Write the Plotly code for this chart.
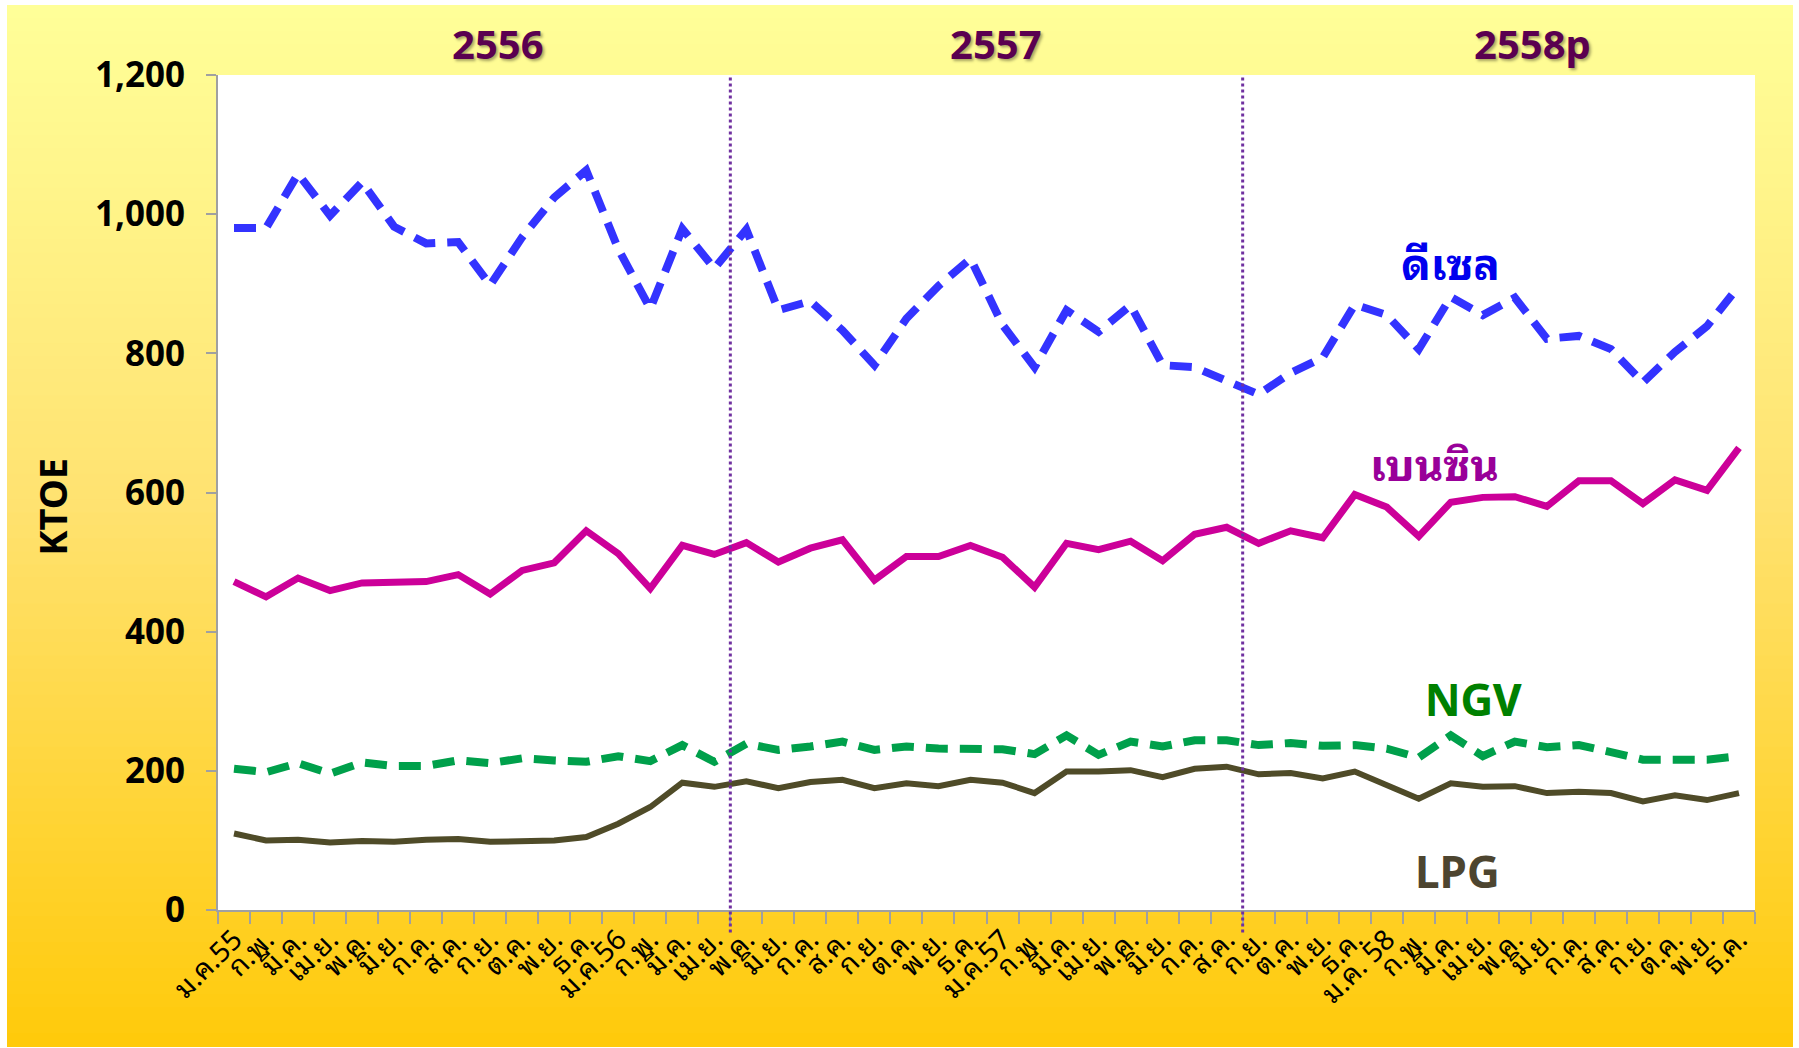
import plotly.graph_objects as go

months = ["ม.ค.", "ก.พ.", "มี.ค.", "เม.ย.", "พ.ค.", "มิ.ย.",
          "ก.ค.", "ส.ค.", "ก.ย.", "ต.ค.", "พ.ย.", "ธ.ค."]
x_labels = (["ม.ค.55"] + months[1:] + ["ม.ค.56"] + months[1:]
            + ["ม.ค.57"] + months[1:] + ["ม.ค. 58"] + months[1:])

diesel = [980, 980, 1058, 998, 1046, 982, 958, 960, 898, 967, 1024, 1063,
          950, 864, 979, 922, 978, 862, 875, 833, 783, 850, 897, 936,
          841, 780, 862, 831, 869, 783, 780, 760, 741, 772, 794, 870,
          855, 806, 881, 855, 880, 821, 825, 806, 758, 802, 839, 897]
benzin = [472, 450, 477, 459, 470, 472, 472, 482, 454, 488, 499, 545,
          512, 462, 524, 511, 528, 500, 520, 532, 474, 508, 508, 524,
          507, 464, 527, 518, 530, 502, 540, 550, 527, 545, 535, 597,
          579, 537, 586, 593, 594, 580, 617, 617, 584, 618, 603, 664]
ngv = [203, 198, 211, 196, 212, 207, 207, 215, 211, 218, 215, 213,
       221, 214, 237, 213, 239, 230, 235, 242, 230, 235, 232, 231,
       231, 224, 251, 223, 242, 235, 244, 244, 237, 240, 236, 237,
       232, 219, 251, 221, 242, 234, 237, 227, 216, 216, 216, 221]
lpg = [110, 100, 101, 97, 99, 98, 101, 102, 98, 100, 100, 105,
       124, 148, 183, 177, 185, 175, 184, 187, 175, 182, 178, 187,
       183, 168, 199, 199, 201, 191, 203, 206, 195, 197, 189, 199,
       180, 160, 182, 177, 178, 168, 170, 168, 156, 165, 158, 168]

year_labels = ["2556", "2557", "2558p"]
year_label_x = [8.25, 23.8, 40.55]
year_breaks = [15.5, 31.5]

series_labels = ["ดีเซล", "เบนซิน", "NGV", "LPG"]
series_label_x = [38.0, 37.5, 38.7, 38.2]
series_label_y = [934, 645, 307, 60]

idx = list(range(len(x_labels)))
THAI = "'Noto Sans Thai Looped', Tahoma, 'Noto Sans Thai', 'Noto Sans', sans-serif"
NUM = "'Noto Sans', sans-serif"

fig = go.Figure()
fig.add_trace(go.Scatter(x=idx, y=diesel, mode="lines", name="ดีเซล",
                         line=dict(color="#3333ff", width=8, dash="22px,12px")))
fig.add_trace(go.Scatter(x=idx, y=benzin, mode="lines", name="เบนซิน",
                         line=dict(color="#cc0099", width=7)))
fig.add_trace(go.Scatter(x=idx, y=ngv, mode="lines", name="NGV",
                         line=dict(color="#00a04b", width=8, dash="22px,12px")))
fig.add_trace(go.Scatter(x=idx, y=lpg, mode="lines", name="LPG",
                         line=dict(color="#4f4b28", width=6)))

# gradient background built from thin bands
W, H = 1799, 1048
L, R, T, B = 218, 44, 75, 138
pw, ph = W - L - R, H - T - B
stops = [(0.0, (255, 255, 153)), (0.48, (255, 226, 112)), (1.0, (255, 202, 10))]

def grad(f):
    for (f0, c0), (f1, c1) in zip(stops, stops[1:]):
        if f <= f1:
            t = (f - f0) / (f1 - f0)
            return "rgb(%d,%d,%d)" % tuple(round(a + (b - a) * t) for a, b in zip(c0, c1))
    return "rgb(%d,%d,%d)" % stops[-1][1]

top_px, bot_px, left_px, right_px = 5, 1046, 7, 1793
n = 80
shapes = []
for k in range(n):
    y0 = top_px + (bot_px - top_px) * k / n
    y1 = top_px + (bot_px - top_px) * (k + 1) / n + 1
    shapes.append(dict(type="rect", xref="paper", yref="paper", layer="below",
                       x0=(left_px - L) / pw, x1=(right_px - L) / pw,
                       y0=(H - B - y1) / ph, y1=(H - B - y0) / ph,
                       fillcolor=grad((k + 0.5) / n), line_width=0))
shapes.append(dict(type="rect", xref="x domain", yref="y domain", layer="below",
                   x0=0, x1=1, y0=0, y1=1, fillcolor="white", line_width=0))
for xb in year_breaks:
    shapes.append(dict(type="line", xref="x", yref="paper", x0=xb, x1=xb,
                       y0=-0.027, y1=1, line=dict(color="#7030a0", width=3, dash="dot")))

annotations = []
for txt, xv in zip(year_labels, year_label_x):
    annotations.append(dict(text="<b>%s</b>" % txt, x=xv, y=(H - B - 44) / ph,
                            xref="x", yref="paper", showarrow=False,
                            xanchor="center", yanchor="middle",
                            font=dict(family=NUM, size=40, color="#5a0050",
                                      shadow="2px 2px 3px rgba(0,0,0,0.35)")))
label_colors = ["#0000ee", "#990099", "#008000", "#4d4530"]
for txt, xv, yv, c in zip(series_labels, series_label_x, series_label_y, label_colors):
    annotations.append(dict(text="<b>%s</b>" % txt, x=xv, y=yv, xref="x", yref="y",
                            showarrow=False, xanchor="center", yanchor="middle",
                            font=dict(family=THAI, size=44, color=c)))
annotations.append(dict(text="<b>KTOE</b>", x=(52 - L) / pw, y=0.483, xref="paper",
                        yref="paper", showarrow=False, textangle=-90,
                        xanchor="center", yanchor="middle",
                        font=dict(family=NUM, size=38, color="black")))

fig.update_layout(
    width=W, height=H,
    margin=dict(l=L, r=R, t=T, b=B),
    paper_bgcolor="white", plot_bgcolor="white",
    showlegend=False,
    shapes=shapes, annotations=annotations,
    xaxis=dict(range=[-0.5, len(x_labels) - 0.5], tickmode="array", tickvals=idx,
               ticktext=x_labels, tickangle=-45, ticks="", showgrid=False,
               showline=True, linecolor="#a0a0a0", linewidth=2, zeroline=False,
               tickfont=dict(family=THAI, size=28, color="black"),
               minor=dict(tickmode="array", tickvals=[i - 0.5 for i in range(len(x_labels) + 1)],
                          ticks="outside", ticklen=12, tickcolor="#a0a0a0", tickwidth=2)),
    yaxis=dict(range=[0, 1200], dtick=200, tickformat=",", showgrid=False,
               showline=True, linecolor="#a0a0a0", linewidth=2, zeroline=False,
               ticks="outside", ticklen=10, tickcolor="#a0a0a0", tickwidth=2,
               ticklabelstandoff=14,
               tickfont=dict(family=NUM, size=35, color="black", weight="bold")),
)

fig.write_html("out.html", config={"displayModeBar": False},
               post_script="document.body.style.margin='0px';")
